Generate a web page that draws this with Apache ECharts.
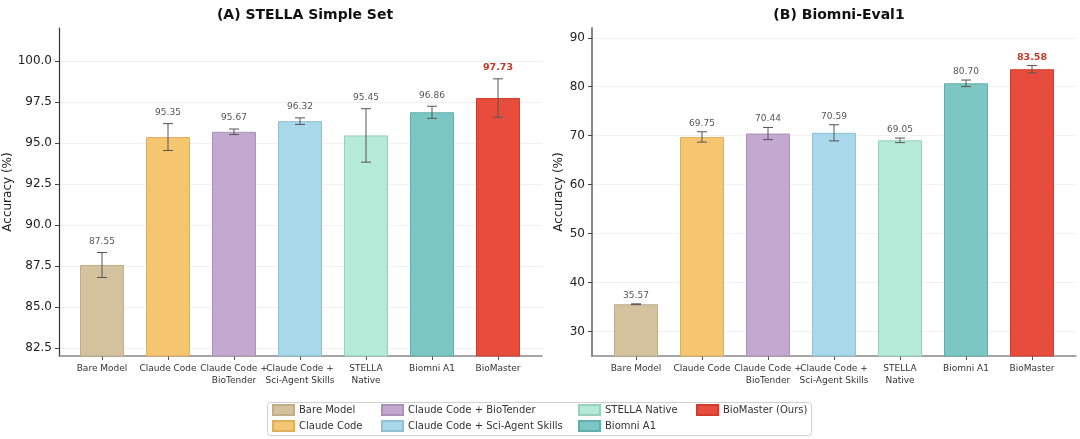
<!DOCTYPE html>
<html>
<head>
<meta charset="utf-8">
<script src="https://cdn.jsdelivr.net/npm/echarts@6/dist/echarts.min.js"></script>
<style>
  html, body { margin: 0; padding: 0; background: #fff; }
  #main { width: 1080px; height: 439px; }
</style>
</head>
<body>
<div id="main"></div>
<script>
// categories and legend names
var categories = ['Bare Model', 'Claude Code', 'Claude Code +\nBioTender', 'Claude Code +\nSci-Agent Skills', 'STELLA\nNative', 'Biomni A1', 'BioMaster'];
var legendNames = ['Bare Model', 'Claude Code', 'Claude Code + BioTender', 'Claude Code + Sci-Agent Skills', 'STELLA Native', 'Biomni A1', 'BioMaster (Ours)'];

// (A) STELLA Simple Set
var stellaValues = [87.55, 95.35, 95.67, 96.32, 95.45, 96.86, 97.73];
var stellaErrors = [0.76, 0.82, 0.17, 0.20, 1.63, 0.37, 1.17];
var stellaTicks = [82.5, 85, 87.5, 90, 92.5, 95, 97.5, 100];

// (B) Biomni-Eval1
var biomniValues = [35.57, 69.75, 70.44, 70.59, 69.05, 80.70, 83.58];
var biomniErrors = [0.08, 1.05, 1.25, 1.65, 0.47, 0.67, 0.75];
var biomniTicks = [30, 40, 50, 60, 70, 80, 90];

var colors = ['#d4c29e', '#f6c56f', '#c3a8d0', '#a8d8ea', '#b4ead7', '#7cc7c4', '#e74c3c'];
var edges = ['#bfae88', '#ddb05e', '#ab90b9', '#8fc0d3', '#98d2bd', '#62aeab', '#cf3d2e'];

var font = 'DejaVu Sans';
var myChart = echarts.init(document.getElementById('main'));

function frameY(grid, min, max, ticks, dec, lineColor, lineWidth, gap) {
    return {
        gridIndex: grid, type: 'value', min: min, max: max,
        name: 'Accuracy (%)', nameLocation: 'middle', nameGap: gap,
        nameTextStyle: {fontFamily: font, fontSize: 12, color: '#222'},
        axisLine: {show: true, lineStyle: {color: lineColor, width: lineWidth}},
        axisTick: {show: true, length: 4, customValues: ticks, lineStyle: {color: '#444'}},
        axisLabel: {
            customValues: ticks, margin: 7, fontFamily: font, fontSize: 12, color: '#222',
            formatter: function (v) { return v.toFixed(dec); }
        },
        splitLine: {show: true, lineStyle: {color: '#eeeeee', width: 0.8}}
    };
}

function barsY(grid, min, max) {
    return {gridIndex: grid, type: 'value', min: min, max: max, show: false, splitLine: {show: false}};
}

function frameX(grid) {
    return {
        gridIndex: grid, type: 'value', min: 0, max: 1,
        axisLine: {show: true, lineStyle: {color: '#888', width: 1.5}},
        axisTick: {show: false}, axisLabel: {show: false}, splitLine: {show: false}
    };
}

function barsX(grid) {
    return {
        gridIndex: grid, type: 'category', data: categories,
        axisLine: {show: false},
        axisTick: {show: true, alignWithLabel: true, length: 4, lineStyle: {color: '#555'}},
        axisLabel: {interval: 0, margin: 7, fontFamily: font, fontSize: 9, color: '#333', lineHeight: 12, hideOverlap: false}
    };
}

function barSeries(values, axisIdx) {
    var list = [];
    for (var i = 0; i < values.length; i++) {
        var d = values.map(function (v, j) { return j === i ? v : '-'; });
        list.push({
            name: legendNames[i], type: 'bar',
            xAxisIndex: axisIdx, yAxisIndex: axisIdx,
            data: d, barWidth: 44, barGap: '-100%',
            itemStyle: {color: colors[i], borderColor: edges[i], borderWidth: 1},
            silent: true
        });
    }
    return list;
}

function errSeries(values, errors, axisIdx, offset) {
    return {
        type: 'custom', xAxisIndex: axisIdx, yAxisIndex: axisIdx,
        z: 10, silent: true, clip: false,
        encode: {x: 0, y: 1},
        data: values.map(function (v, i) { return [i, v, errors[i]]; }),
        renderItem: function (params, api) {
            var x = api.value(0), v = api.value(1), e = api.value(2);
            var top = api.coord([x, v + e]);
            var bot = api.coord([x, v - e]);
            var hw = 5;
            var st = {stroke: '#555', lineWidth: 1};
            var last = x === values.length - 1;
            return {
                type: 'group',
                children: [
                    {type: 'line', shape: {x1: top[0], y1: top[1], x2: bot[0], y2: bot[1]}, style: st},
                    {type: 'line', shape: {x1: top[0] - hw, y1: top[1], x2: top[0] + hw, y2: top[1]}, style: st},
                    {type: 'line', shape: {x1: bot[0] - hw, y1: bot[1], x2: bot[0] + hw, y2: bot[1]}, style: st},
                    {
                        type: 'text',
                        style: {
                            text: v.toFixed(2), x: top[0], y: top[1] - offset,
                            align: 'center', verticalAlign: 'middle',
                            fontFamily: font, fontSize: last ? 9.5 : 9,
                            fontWeight: last ? 'bold' : 'normal',
                            fill: last ? '#c0392b' : '#555'
                        }
                    }
                ]
            };
        }
    };
}

function legendCol(names, left) {
    return {
        data: names, orient: 'vertical', left: left, top: 404,
        itemWidth: 21, itemHeight: 10, itemGap: 4, padding: 0,
        icon: 'rect', selectedMode: false,
        textStyle: {fontFamily: font, fontSize: 10, color: '#333'}
    };
}

var option = {
    animation: false,
    title: [
        {text: '(A) STELLA Simple Set', left: 300, top: 3, textAlign: 'center',
         textStyle: {fontFamily: font, fontSize: 14, fontWeight: 'bold', color: '#111'}},
        {text: '(B) Biomni-Eval1', left: 834, top: 3, textAlign: 'center',
         textStyle: {fontFamily: font, fontSize: 14, fontWeight: 'bold', color: '#111'}}
    ],
    grid: [
        {left: 59, top: 28, width: 483, height: 328},
        {left: 69, top: 28, width: 462, height: 328},
        {left: 592, top: 28, width: 484, height: 328},
        {left: 603, top: 28, width: 462, height: 328}
    ],
    xAxis: [frameX(0), barsX(1), frameX(2), barsX(3)],
    yAxis: [
        frameY(0, 82, 102, stellaTicks, 1, '#333', 1.2, 40),
        barsY(1, 82, 102),
        frameY(2, 25, 92, biomniTicks, 0, '#888', 2, 27),
        barsY(3, 25, 92)
    ],
    legend: [
        legendCol(['Bare Model', 'Claude Code'], 272),
        legendCol(['Claude Code + BioTender', 'Claude Code + Sci-Agent Skills'], 381),
        legendCol(['STELLA Native', 'Biomni A1'], 578),
        legendCol(['BioMaster (Ours)'], 696)
    ],
    graphic: [{
        type: 'rect', left: 267, top: 402, z: -1,
        shape: {width: 544, height: 33, r: 3},
        style: {fill: '#fff', stroke: '#d0d0d0', lineWidth: 1}
    }],
    series: [].concat(
        barSeries(stellaValues, 1),
        [errSeries(stellaValues, stellaErrors, 1, 11)],
        barSeries(biomniValues, 3),
        [errSeries(biomniValues, biomniErrors, 3, 8.5)]
    )
};

myChart.setOption(option);
</script>
</body>
</html>
